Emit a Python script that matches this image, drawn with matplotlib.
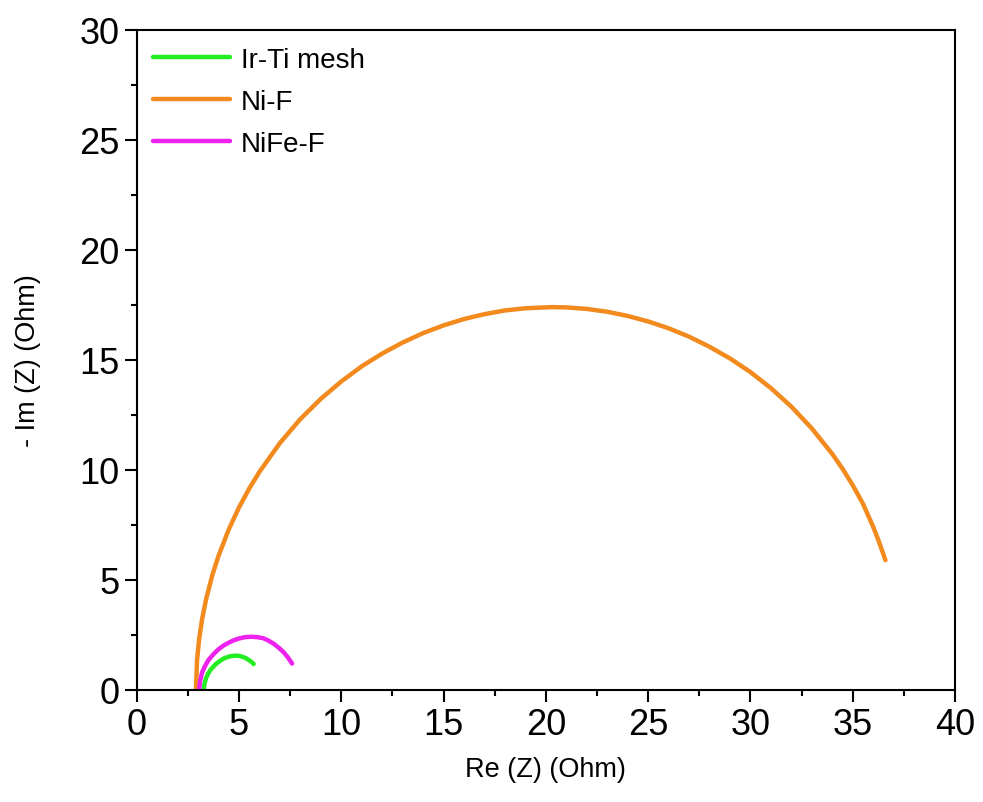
import matplotlib.pyplot as plt
from matplotlib.ticker import MultipleLocator

plt.rcParams['font.family'] = ['Liberation Sans', 'DejaVu Sans']

# Nyquist data (Re Z, -Im Z) in Ohm
irti_re = [3.28, 3.32, 3.4, 3.5, 3.6, 3.75, 3.9, 4.1, 4.3, 4.55, 4.8, 5.0,
           5.2, 5.35, 5.5, 5.62, 5.72]
irti_im = [0.0, 0.3, 0.55, 0.75, 0.9, 1.06, 1.2, 1.34, 1.45, 1.53, 1.56, 1.55,
           1.5, 1.44, 1.35, 1.27, 1.18]

nif_re = [2.9, 2.95, 3.05, 3.2, 3.4, 3.7, 4.0, 4.5, 5, 5.5, 6, 7, 8, 9, 10,
          11, 12, 13, 14, 15, 16, 17, 18, 19, 20.3, 21, 22, 23, 24, 25, 26,
          27, 28, 29, 30, 31, 32, 33, 34, 34.5, 35, 35.5, 36, 36.3, 36.6]
nif_im = [0.0, 1.32, 2.28, 3.22, 4.14, 5.22, 6.09, 7.29, 8.29, 9.15, 9.91,
          11.22, 12.31, 13.23, 14.02, 14.71, 15.29, 15.79, 16.22, 16.57,
          16.86, 17.08, 17.25, 17.35, 17.4, 17.39, 17.32, 17.19, 17.0, 16.75,
          16.44, 16.06, 15.6, 15.07, 14.45, 13.72, 12.88, 11.89, 10.73, 10.06,
          9.31, 8.47, 7.42, 6.7, 5.9]

nife_re = [3.05, 3.1, 3.2, 3.35, 3.5, 3.75, 4.0, 4.25, 4.5, 4.75, 5.0, 5.3,
           5.6, 5.9, 6.2, 6.45, 6.7, 6.95, 7.2, 7.4, 7.6]
nife_im = [0.0, 0.4, 0.8, 1.1, 1.35, 1.62, 1.85, 2.02, 2.15, 2.26, 2.34, 2.4,
           2.42, 2.4, 2.35, 2.24, 2.1, 1.92, 1.7, 1.47, 1.2]

labels = ["Ir-Ti mesh", "Ni-F", "NiFe-F"]
colors = ["#22ee22", "#f28a1e", "#ee22ee"]

fig = plt.figure(figsize=(9.83, 8.03), dpi=100)
ax = fig.add_axes([0.139, 0.1395, 0.8325, 0.822])

for re, im, lab, c in zip([irti_re, nif_re, nife_re], [irti_im, nif_im, nife_im], labels, colors):
    ax.plot(re, im, color=c, lw=3.2, label=lab, solid_capstyle='round',
            solid_joinstyle='round')

ax.set_xlim(0, 40)
ax.set_ylim(0, 30)
ax.xaxis.set_major_locator(MultipleLocator(5))
ax.xaxis.set_minor_locator(MultipleLocator(2.5))
ax.yaxis.set_major_locator(MultipleLocator(5))
ax.yaxis.set_minor_locator(MultipleLocator(2.5))

ax.tick_params(which='both', direction='out', width=1.5, labelsize=26, top=False, right=False)
ax.tick_params(which='major', length=8.5, pad=4)
ax.tick_params(which='minor', length=4.5)
for s in ax.spines.values():
    s.set_linewidth(1.5)

ax.set_xlabel("Re (Z) (Ohm)", fontsize=19.5, labelpad=10)
ax.set_ylabel("- Im (Z) (Ohm)", fontsize=19.5, labelpad=27)

ax.legend(loc='upper left', frameon=False, fontsize=20, handlelength=2.75,
          borderaxespad=0.2, labelspacing=0.58, handletextpad=0.4)

fig.savefig("out.png", dpi=100)
